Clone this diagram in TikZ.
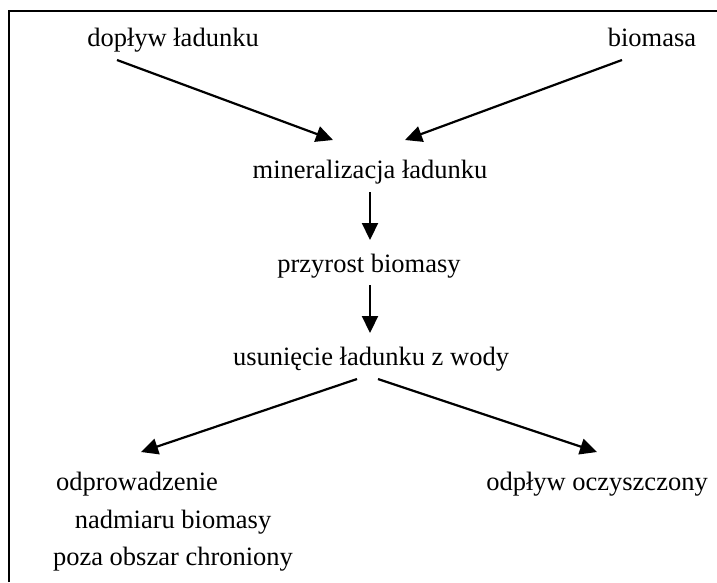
\documentclass[tikz,border=0pt]{standalone}
\usepackage{fontspec}
\setmainfont{Liberation Serif}
\usetikzlibrary{arrows.meta}
\begin{document}
\begin{tikzpicture}[x=1pt,y=-1pt,
  lbl/.style={anchor=base,inner sep=0pt,font=\fontsize{26.5}{32}\selectfont},
  arr/.style={line width=2.2pt,-{Triangle[length=17pt,width=16pt]}}]
\useasboundingbox (0,0) rectangle (717,582);
\draw[line width=2pt] (9,582) -- (9,11) -- (717,11);
\node[lbl] (dop) at (173,46) {dopływ ładunku};
\node[lbl] (bio) at (652,46) {biomasa};
\node[lbl] (min) at (370,178) {mineralizacja ładunku};
\node[lbl] (prz) at (369,272) {przyrost biomasy};
\node[lbl] (usu) at (371,365) {usunięcie ładunku z wody};
\node[lbl] (odp1) at (137,490) {odprowadzenie};
\node[lbl] (odp2) at (173,528) {nadmiaru biomasy};
\node[lbl] (odp3) at (173,565) {poza obszar chroniony};
\node[lbl] (ocz) at (597,490) {odpływ oczyszczony};
\coordinate (a1s) at (117,60); \coordinate (a1e) at (333,140);
\coordinate (a2s) at (622,60); \coordinate (a2e) at (405,140);
\coordinate (a3s) at (370,192); \coordinate (a3e) at (370,240);
\coordinate (a4s) at (370,285); \coordinate (a4e) at (370,333);
\coordinate (a5s) at (357,379); \coordinate (a5e) at (141,452);
\coordinate (a6s) at (378,379); \coordinate (a6e) at (597,452);
\draw[arr] (a1s) -- (a1e);
\draw[arr] (a2s) -- (a2e);
\draw[arr] (a3s) -- (a3e);
\draw[arr] (a4s) -- (a4e);
\draw[arr] (a5s) -- (a5e);
\draw[arr] (a6s) -- (a6e);
\end{tikzpicture}
\end{document}
